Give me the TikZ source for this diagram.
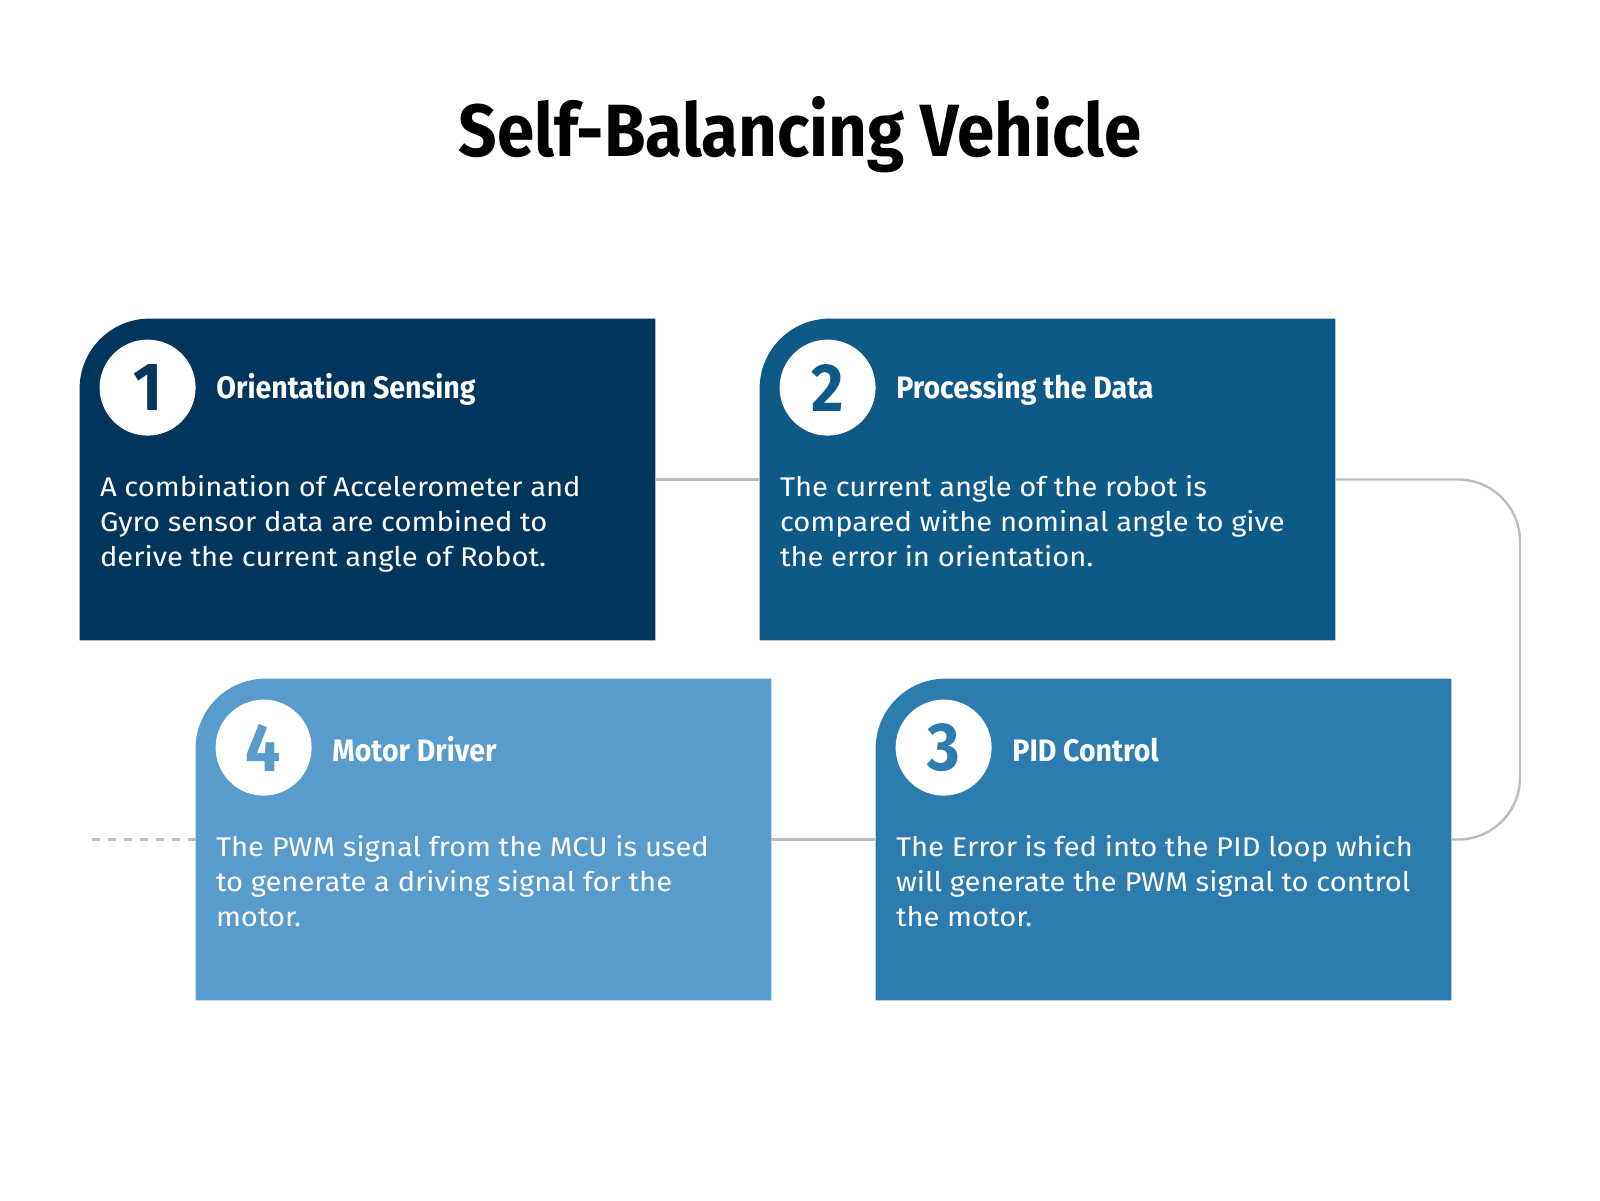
\documentclass[tikz,border=0pt]{standalone}
\usepackage{fontspec}
\setmainfont{Fira Sans}[FakeStretch=1.08]
\newfontfamily\titlefont{Fira Sans}[FakeStretch=0.91]
\newfontfamily\headfont{Fira Sans}[FakeStretch=0.92]
\usetikzlibrary{positioning}

\definecolor{cardone}{HTML}{00355D}
\definecolor{cardtwo}{HTML}{0D5A88}
\definecolor{cardthree}{HTML}{2D7CB0}
\definecolor{cardfour}{HTML}{589BCD}
\definecolor{linkgray}{HTML}{BDBDBD}

\tikzset{
  card/.style={minimum width=287.5pt, minimum height=160.5pt, inner sep=0pt},
  badge/.style={circle, fill=white, minimum size=48pt, inner sep=0pt,
                font=\headfont\fontsize{34}{34}\selectfont\bfseries},
  heading/.style={text=white, inner sep=0pt, yshift=-1pt,
                  font=\headfont\fontsize{15.5}{17}\selectfont\bfseries},
  body/.style={text=white, inner sep=0pt, anchor=north west, align=left,
               font=\fontsize{13.5}{17.5}\selectfont},
  link/.style={draw=linkgray, line width=1.2pt},
}

\begin{document}
\begin{tikzpicture}[x=0.5pt,y=-0.5pt]
  \useasboundingbox (0,0) rectangle (1600,1200);
  \node[font=\titlefont\fontsize{37}{40}\selectfont\bfseries] (title) at (800,135)
        {Self-Balancing Vehicle};

  % the four cards
  \node[card] (b1) at (367.5,479.5) {};
  \node[card] (b2) at (1047.5,479.5) {};
  \node[card] (b3) at (1163.5,839.5) {};
  \node[card] (b4) at (483.5,839.5) {};
  \fill[cardone] (b1.south west) -- ([yshift=-35pt]b1.north west)
        arc[start angle=180, end angle=90, radius=35pt]
        -- (b1.north east) -- (b1.south east) -- cycle;
  \fill[cardtwo] (b2.south west) -- ([yshift=-35pt]b2.north west)
        arc[start angle=180, end angle=90, radius=35pt]
        -- (b2.north east) -- (b2.south east) -- cycle;
  \fill[cardthree] (b3.south west) -- ([yshift=-35pt]b3.north west)
        arc[start angle=180, end angle=90, radius=35pt]
        -- (b3.north east) -- (b3.south east) -- cycle;
  \fill[cardfour] (b4.south west) -- ([yshift=-35pt]b4.north west)
        arc[start angle=180, end angle=90, radius=35pt]
        -- (b4.north east) -- (b4.south east) -- cycle;

  % step 1
  \node[badge, text=cardone] (n1) at ([xshift=34pt,yshift=-34.5pt]b1.north west) {1};
  \node[heading, right=10pt of n1] (h1) {Orientation Sensing};
  \node[body] (t1) at ([xshift=10pt,yshift=-78.2pt]b1.north west)
        {A combination of Accelerometer and\\Gyro sensor data are combined to\\derive the current angle of Robot.};
  % step 2
  \node[badge, text=cardtwo] (n2) at ([xshift=34pt,yshift=-34.5pt]b2.north west) {2};
  \node[heading, right=10pt of n2] (h2) {Processing the Data};
  \node[body] (t2) at ([xshift=10pt,yshift=-78.2pt]b2.north west)
        {The current angle of the robot is\\compared withe nominal angle to give\\the error in orientation.};
  % step 3
  \node[badge, text=cardthree] (n3) at ([xshift=34pt,yshift=-34.5pt]b3.north west) {3};
  \node[heading, right=10pt of n3] (h3) {PID Control};
  \node[body] (t3) at ([xshift=10pt,yshift=-78.2pt]b3.north west)
        {The Error is fed into the PID loop which\\will generate the PWM signal to control\\the motor.};
  % step 4
  \node[badge, text=cardfour] (n4) at ([xshift=34pt,yshift=-34.5pt]b4.north west) {4};
  \node[heading, right=10pt of n4] (h4) {Motor Driver};
  \node[body] (t4) at ([xshift=10pt,yshift=-78.2pt]b4.north west)
        {The PWM signal from the MCU is used\\to generate a driving signal for the\\motor.};

  % connectors
  \coordinate (bendtop) at (1520,479.5);
  \coordinate (bendbot) at (1520,839.5);
  \coordinate (tail) at (89,839.5);
  \draw[link] (b1) -- (b2);
  \draw[link, rounded corners=31pt] (b2.east) -- (bendtop) -- (bendbot) -- (b3.east);
  \draw[link] (b3) -- (b4);
  \draw[link, dash pattern=on 4pt off 4pt] (b4.west) -- (tail);
\end{tikzpicture}
\end{document}
